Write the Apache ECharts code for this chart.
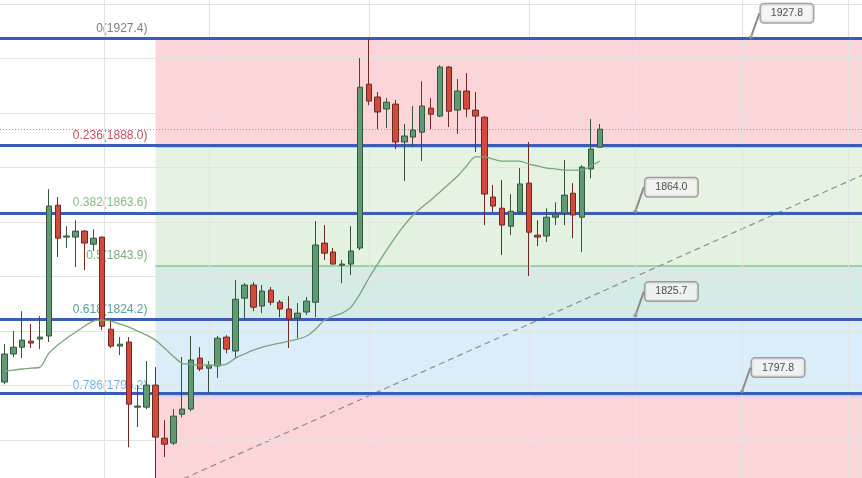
<!DOCTYPE html>
<html><head><meta charset="utf-8">
<script src="https://cdn.jsdelivr.net/npm/echarts@6/dist/echarts.min.js"></script>
<style>html,body{margin:0;padding:0;background:#fff}#c{width:862px;height:478px}</style>
</head><body><div id="c"></div>
<script>
// ---- data ----
const opens  = [1801.3,1811.6,1814.1,1816.3,1817.1,1818.2,1866.2,1854.5,1854.5,1856.7,1851.9,1854.5,1820.7,1814.5,1816.0,1792.1,1792.1,1800.2,1780.7,1778.9,1789.5,1791.4,1810.1,1806.4,1807.2,1817.8,1812.7,1832.1,1836.9,1829.2,1835.0,1830.6,1828.1,1824.8,1827.0,1830.6,1852.3,1849.0,1844.2,1844.6,1850.5,1910.6,1905.9,1901.5,1903.3,1889.4,1891.2,1893.0,1901.8,1898.9,1916.9,1901.1,1908.1,1901.1,1898.5,1869.2,1865.1,1858.5,1863.7,1874.3,1855.2,1854.9,1861.8,1863.3,1870.6,1861.8,1879.5,1887.5];
const closes = [1811.6,1814.1,1816.7,1815.6,1817.8,1865.9,1854.1,1854.9,1856.7,1852.3,1854.1,1821.8,1814.5,1815.2,1793.2,1792.5,1800.2,1781.1,1778.5,1788.8,1791.4,1809.4,1806.1,1807.5,1817.4,1813.4,1831.7,1836.9,1828.8,1834.7,1830.6,1828.1,1824.4,1826.6,1831.0,1851.6,1848.6,1844.6,1844.6,1849.4,1909.5,1904.4,1900.4,1904.0,1889.4,1891.6,1893.8,1902.6,1899.6,1916.9,1900.7,1908.1,1901.5,1898.9,1870.3,1865.9,1858.9,1864.0,1874.0,1856.3,1854.5,1861.8,1862.9,1869.9,1862.6,1880.2,1886.8,1894.1];
const lows   = [1800.5,1810.5,1810.1,1813.8,1813.4,1816.0,1847.2,1850.5,1843.5,1842.4,1849.4,1820.4,1813.8,1811.2,1777.4,1784.8,1791.4,1760.5,1773.8,1778.2,1788.4,1790.6,1805.3,1797.3,1802.8,1811.9,1810.1,1824.0,1827.3,1826.6,1829.5,1825.1,1813.8,1817.4,1825.9,1825.1,1846.1,1844.4,1837.6,1840.6,1849.7,1902.9,1894.1,1894.5,1886.8,1875.1,1887.5,1882.4,1894.1,1898.5,1894.9,1892.3,1898.5,1885.7,1858.9,1863.7,1847.9,1855.2,1862.9,1840.2,1851.2,1852.7,1858.9,1858.9,1854.1,1849.0,1876.1,1887.5];
const highs  = [1815.2,1820.0,1827.3,1822.6,1825.5,1872.1,1869.2,1858.5,1860.7,1857.1,1857.4,1854.6,1824.0,1817.8,1817.8,1800.2,1809.0,1806.8,1787.3,1791.4,1810.5,1818.2,1814.1,1809.0,1818.2,1818.5,1838.7,1837.6,1838.0,1836.9,1836.2,1831.4,1832.8,1830.3,1832.5,1860.4,1858.9,1850.5,1846.1,1858.5,1920.2,1927.4,1907.7,1905.5,1904.8,1896.0,1902.6,1911.7,1905.5,1917.6,1917.2,1912.5,1914.7,1907.7,1898.8,1873.6,1875.4,1870.3,1879.8,1889.4,1860.7,1865.1,1867.3,1882.8,1874.3,1880.9,1897.8,1896.0];
const movingAvg = [1805.3,1805.7,1806.1,1806.4,1806.8,1811.9,1814.9,1817.4,1819.6,1821.8,1823.7,1824.0,1823.7,1822.6,1821.5,1820.0,1818.5,1816.7,1813.8,1810.8,1808.2,1807.9,1807.5,1807.5,1807.5,1807.9,1810.1,1811.6,1813.0,1814.1,1814.9,1815.6,1816.3,1817.1,1818.2,1820.7,1824.0,1825.5,1826.6,1828.8,1833.6,1839.4,1844.6,1849.7,1854.5,1858.9,1862.6,1865.5,1868.1,1871.0,1874.0,1876.9,1880.6,1883.9,1883.9,1883.1,1882.4,1882.4,1882.4,1881.3,1880.6,1879.8,1879.5,1879.1,1879.1,1879.1,1880.6,1882.4];
const fibRatios = [0, 0.236, 0.382, 0.5, 0.618, 0.786, 1];
const fibPrices = [1927.4, 1888.0, 1863.6, 1843.9, 1824.2, 1796.2, 1760.5];
const fibStartSlot = 17;
const horizontalLines = [1927.5, 1888.2, 1863.4, 1824.5, 1797.3];
const lastPrice = 1894.1;
const calloutSlots  = [84, 71, 71, 83];
const calloutPrices = [1927.8, 1864.0, 1825.7, 1797.8];
const trendSlots  = [15, 96.5];
const trendPrices = [1758.3, 1877.2];
const priceGridLines = [1780, 1800, 1820, 1840, 1860, 1880, 1900, 1920, 1940];
const timeGridSlots = [11.2, 23, 41, 59, 71, 83, 95];
const priceRange = [1766.1, 1941.5];
const totalSlots = 97;

// ---- chart ----
const categories = [];
for (let i = 0; i < totalSlots; i++) categories.push('S' + (i + 1));
const candleData = opens.map((o, i) => [o, closes[i], lows[i], highs[i]]);
const xEnd = totalSlots - 0.5;

const fibLabelColors = ['#7d7d85', '#c4505b', '#86bd86', '#79b079', '#5b9e9a', '#72b0e2', '#888'];
const fibLineColors  = ['#6c58a8', '#7652a4', 'rgba(129,199,132,0.5)', '#6aac6a', 'rgba(8,153,129,0.35)', 'rgba(100,181,246,0.6)', '#999'];
const fibLineWidths  = [3, 3, 1, 1, 1, 1, 1];
const zoneColors = ['rgba(238,45,65,0.2)', 'rgba(155,207,139,0.25)', 'rgba(150,205,140,0.26)', 'rgba(83,175,155,0.25)', 'rgba(115,183,235,0.25)', 'rgba(238,45,65,0.2)'];

const fibSeries = fibPrices.map((p, k) => ({
  type: 'line', xAxisIndex: 1, yAxisIndex: 0, z: 3.5,
  symbol: 'circle', symbolSize: 0, showSymbol: true, silent: true,
  lineStyle: { color: fibLineColors[k], width: fibLineWidths[k] },
  data: [
    { value: [fibStartSlot, p], label: { show: p > priceRange[0], position: 'left', distance: 8, offset: [0, -10],
      formatter: fibRatios[k] + '(' + p.toFixed(1) + ')', color: fibLabelColors[k], fontSize: 12,
      fontFamily: 'Liberation Sans, Arial, sans-serif' } },
    [xEnd, p]
  ],
  animation: false
}));

const zoneSeries = {
  type: 'line', xAxisIndex: 1, yAxisIndex: 0, z: 1, data: [], silent: true,
  markArea: {
    silent: true,
    data: fibPrices.slice(0, -1).map((p, k) => [
      { xAxis: fibStartSlot, yAxis: p, itemStyle: { color: zoneColors[k] } },
      { xAxis: xEnd, yAxis: fibPrices[k + 1] }
    ])
  },
  animation: false
};

const gridSeries = {
  type: 'line', xAxisIndex: 1, yAxisIndex: 0, z: 0.5, data: [], silent: true,
  markLine: { silent: true, symbol: 'none', label: { show: false },
    lineStyle: { color: '#e3e3e3', width: 1, type: 'solid' },
    data: timeGridSlots.map(s => ({ xAxis: s })).concat(priceGridLines.map(v => ({ yAxis: v }))) },
  animation: false
};

const hLineSeries = {
  type: 'line', xAxisIndex: 1, yAxisIndex: 0, z: 3, data: [], silent: true,
  markLine: { silent: true, symbol: 'none', label: { show: false },
    data: horizontalLines.map(v => ({ yAxis: v, lineStyle: { color: '#3b5db8', width: 3, type: 'solid' } }))
      .concat([{ yAxis: lastPrice, lineStyle: { color: '#9a9a9a', width: 1, type: [1, 2] } }]) },
  animation: false
};

const trendSeries = {
  type: 'line', xAxisIndex: 1, yAxisIndex: 0, z: 4, symbol: 'none', silent: true,
  lineStyle: { color: '#8e8e8e', width: 1.2, type: [6, 4] },
  data: trendSlots.map((s, i) => [s, trendPrices[i]]),
  animation: false
};

const candleSeries = {
  type: 'candlestick', xAxisIndex: 0, yAxisIndex: 0, z: 5, barWidth: 6,
  data: candleData,
  itemStyle: { color: '#5e9a72', color0: '#d24a3b', borderColor: '#33543d', borderColor0: '#6e2a22', borderWidth: 1 },
  animation: false
};

const maSeries = {
  type: 'line', xAxisIndex: 0, yAxisIndex: 0, z: 6, symbol: 'none', smooth: 0.3,
  lineStyle: { color: '#78a77c', width: 1.3 },
  data: movingAvg, animation: false
};

const calloutSeries = {
  type: 'scatter', xAxisIndex: 1, yAxisIndex: 0, z: 7, symbol: 'circle', symbolSize: 4,
  itemStyle: { color: '#8a8a8a' },
  data: calloutSlots.map((s, i) => [s, calloutPrices[i]]),
  label: { show: true, position: 'inside', formatter: p => p.value[1].toFixed(1),
    color: '#222', fontSize: 10.5, fontFamily: 'Liberation Sans, Arial, sans-serif',
    backgroundColor: '#f3f3f3', borderColor: '#8c8c8c', borderWidth: 1.5, borderRadius: 3,
    padding: [4, 10, 3, 10] },
  labelLayout: { dx: 36, dy: -24 },
  labelLine: { show: true, lineStyle: { color: '#8c8c8c', width: 2 } },
  animation: false
};

const option = {
  backgroundColor: '#ffffff',
  animation: false,
  grid: { left: 0, right: 0, top: 0, bottom: 0 },
  xAxis: [
    { type: 'category', data: categories, boundaryGap: true, show: false },
    { type: 'value', min: -0.5, max: xEnd, show: false }
  ],
  yAxis: [{ type: 'value', min: priceRange[0], max: priceRange[1], show: false, splitLine: { show: false } }],
  series: [gridSeries, zoneSeries, hLineSeries].concat(fibSeries).concat([trendSeries, candleSeries, maSeries, calloutSeries])
};
const chart = echarts.init(document.getElementById('c'), null, { renderer: 'canvas' });
chart.setOption(option);
</script>
</body></html>
